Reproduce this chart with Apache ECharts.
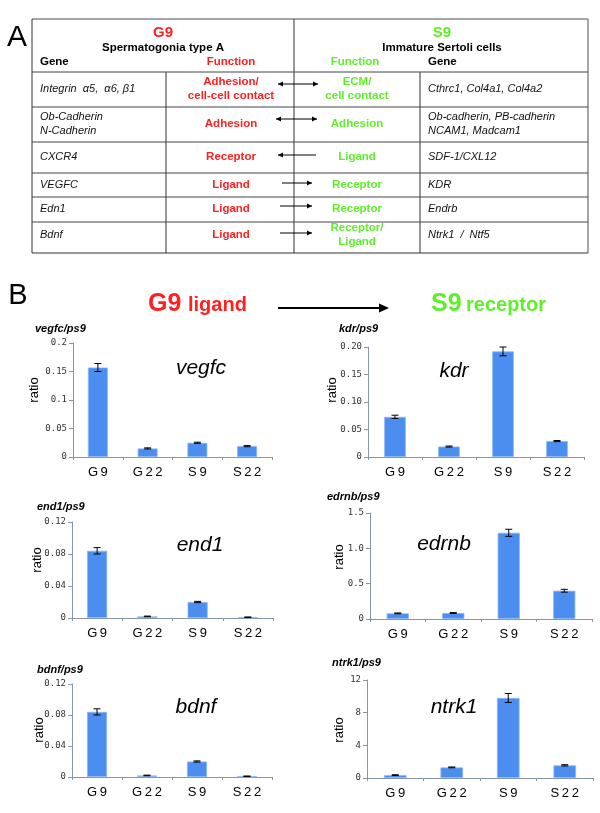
<!DOCTYPE html>
<html><head><meta charset="utf-8">
<script src="https://cdn.jsdelivr.net/npm/echarts@6/dist/echarts.min.js"></script>
<style>html,body{margin:0;padding:0;background:#fff}#c{width:600px;height:813px}</style>
</head><body><div id="c"></div>
<script>
// ---------------- DATA ----------------
const categories = ['G9', 'G22', 'S9', 'S22'];
const chartNames = ['vegfc', 'kdr', 'end1', 'edrnb', 'bdnf', 'ntrk1'];
const chartTitles = ['vegfc/ps9', 'kdr/ps9', 'end1/ps9', 'edrnb/ps9', 'bdnf/ps9', 'ntrk1/ps9'];
const yAxisName = 'ratio';

const vegfcValues = [0.157, 0.015, 0.025, 0.019];
const vegfcErrors = [0.007, 0.001, 0.001, 0.001];
const kdrValues = [0.073, 0.019, 0.192, 0.029];
const kdrErrors = [0.003, 0.001, 0.008, 0.001];
const end1Values = [0.084, 0.002, 0.020, 0.001];
const end1Errors = [0.004, 0.0004, 0.0008, 0.0003];
const edrnbValues = [0.08, 0.085, 1.22, 0.40];
const edrnbErrors = [0.006, 0.006, 0.05, 0.02];
const bdnfValues = [0.084, 0.002, 0.020, 0.001];
const bdnfErrors = [0.004, 0.0004, 0.0008, 0.0003];
const ntrk1Values = [0.35, 1.3, 9.8, 1.55];
const ntrk1Errors = [0.05, 0.05, 0.55, 0.08];

const vegfcTicks = ['0', '0.05', '0.1', '0.15', '0.2'];
const kdrTicks = ['0', '0.05', '0.10', '0.15', '0.20'];
const end1Ticks = ['0', '0.04', '0.08', '0.12'];
const edrnbTicks = ['0', '0.5', '1.0', '1.5'];
const bdnfTicks = ['0', '0.04', '0.08', '0.12'];
const ntrk1Ticks = ['0', '4', '8', '12'];

// Table (panel A)
const panelLabels = ['A', 'B'];
const g9Header = ['G9', 'Spermatogonia type A', 'Gene', 'Function'];
const s9Header = ['S9', 'Immature Sertoli cells', 'Function', 'Gene'];
const g9Genes = ['Integrin  \u03b15,  \u03b16, \u03b21', 'Ob-Cadherin\nN-Cadherin', 'CXCR4', 'VEGFC', 'Edn1', 'Bdnf'];
const g9Functions = ['Adhesion/\ncell-cell contact', 'Adhesion', 'Receptor', 'Ligand', 'Ligand', 'Ligand'];
const arrowDirections = ['both', 'both', 'left', 'right', 'right', 'right'];
const s9Functions = ['ECM/\ncell contact', 'Adhesion', 'Ligand', 'Receptor', 'Receptor', 'Receptor/\nLigand'];
const s9Genes = ['Cthrc1, Col4a1, Col4a2', 'Ob-cadherin, PB-cadherin\nNCAM1, Madcam1', 'SDF-1/CXL12', 'KDR', 'Endrb', 'Ntrk1  /  Ntf5'];
const panelBHeader = [['G9', 'ligand'], ['S9', 'receptor']];

// ---------------- LAYOUT / STYLE ----------------
const RED = '#ff2020', GREEN = '#5fef2a', BLUE = '#4b8ef0', AXIS = '#8796a6';
const FONT = '"Liberation Sans", Arial, sans-serif';
const allValues = [vegfcValues, kdrValues, end1Values, edrnbValues, bdnfValues, ntrk1Values];
const allErrors = [vegfcErrors, kdrErrors, end1Errors, edrnbErrors, bdnfErrors, ntrk1Errors];
const allTicks = [vegfcTicks, kdrTicks, end1Ticks, edrnbTicks, bdnfTicks, ntrk1Ticks];
const grids = [
  {left: 73, top: 343, width: 199, height: 114},
  {left: 368, top: 347, width: 216, height: 110},
  {left: 72, top: 522, width: 201, height: 96},
  {left: 370, top: 513, width: 222, height: 106},
  {left: 72, top: 684, width: 200, height: 93},
  {left: 367, top: 680, width: 226, height: 98}
];
const titlePos = [[35, 329], [339, 329], [37, 507], [327, 497], [37, 670], [332, 663]];
const innerPos = [[201, 368], [454, 371], [200, 545], [444, 544], [196, 707], [454, 707]];
const ratioPos = [[34, 390], [332, 390], [37, 560], [339, 557], [39, 730], [339, 730]];

function txt(x, y, text, font, fill, align, vAlign, extra) {
  return Object.assign({
    type: 'text', x: x, y: y, silent: true,
    style: {text: text, font: font, fill: fill, textAlign: align || 'left', align: align || 'left',
      textVerticalAlign: vAlign || 'middle', verticalAlign: vAlign || 'middle', lineHeight: 14.5}
  }, extra || {});
}
function ln(x1, y1, x2, y2, color, w) {
  return {type: 'line', silent: true, shape: {x1, y1, x2, y2}, style: {stroke: color || '#333', lineWidth: w || 1}};
}
function head(x, y, dir, len, hw) {
  const s = dir === 'right' ? 1 : -1;
  return {type: 'polygon', silent: true, shape: {points: [[x, y], [x - s * len, y - hw], [x - s * len, y + hw]]}, style: {fill: '#000'}};
}

const graphics = [];
// panel labels
graphics.push(txt(17, 38, panelLabels[0], '30px ' + FONT, '#000', 'center'));
graphics.push(txt(18, 296, panelLabels[1], '29px ' + FONT, '#000', 'center'));

// table lines
const TL = 32, TR = 588, TT = 19, TB = 253;
const rowLines = [72, 107, 142, 173, 197, 222];
graphics.push(ln(TL, TT, TR, TT, '#888', 1.5));
graphics.push(ln(TL, TB, TR, TB, '#333', 1));
graphics.push(ln(TL, TT, TL, TB, '#333', 1));
graphics.push(ln(TR, TT, TR, TB, '#888', 1.5));
graphics.push(ln(294, TT, 294, TB, '#333', 1));
graphics.push(ln(166, 72, 166, TB, '#333', 1));
graphics.push(ln(420, 72, 420, TB, '#333', 1));
rowLines.forEach(y => graphics.push(ln(TL, y, TR, y, '#444', 1)));

// headers
const HB = 'bold 11.5px ' + FONT;
graphics.push(txt(163, 33, g9Header[0], 'bold 15px ' + FONT, RED, 'center'));
graphics.push(txt(163, 48, g9Header[1], HB, '#000', 'center'));
graphics.push(txt(40, 62, g9Header[2], HB, '#000', 'left'));
graphics.push(txt(231, 62, g9Header[3], HB, RED, 'center'));
graphics.push(txt(442, 33, s9Header[0], 'bold 15px ' + FONT, GREEN, 'center'));
graphics.push(txt(442, 48, s9Header[1], HB, '#000', 'center'));
graphics.push(txt(355, 62, s9Header[2], HB, GREEN, 'center'));
graphics.push(txt(428, 62, s9Header[3], HB, '#000', 'left'));

// rows
const rowTextY = [89, 124, 156.5, 184.5, 208.5, 235];
const arrowY = [84, 119, 155, 183, 206, 233];
const arrowX = [[278, 318], [276, 317], [278, 316], [282, 312], [280, 312], [280, 312]];
const GI = 'italic 11px ' + FONT;
g9Genes.forEach((g, i) => {
  graphics.push(txt(40, rowTextY[i], g, GI, '#111', 'left'));
  graphics.push(txt(231, rowTextY[i], g9Functions[i], HB, RED, 'center'));
  graphics.push(txt(357, rowTextY[i], s9Functions[i], HB, GREEN, 'center'));
  graphics.push(txt(428, rowTextY[i], s9Genes[i], GI, '#111', 'left'));
  const [x1, x2] = arrowX[i], y = arrowY[i], d = arrowDirections[i];
  graphics.push(ln(x1, y, x2, y, '#000', 1));
  if (d === 'both' || d === 'left') graphics.push(head(x1, y, 'left', 5, 2.5));
  if (d === 'both' || d === 'right') graphics.push(head(x2, y, 'right', 5, 2.5));
});

// panel B header
graphics.push(txt(148, 304, panelBHeader[0][0], 'bold 25px ' + FONT, RED, 'left'));
graphics.push(txt(188, 305.5, panelBHeader[0][1], 'bold 20px ' + FONT, RED, 'left'));
graphics.push(txt(431, 304, panelBHeader[1][0], 'bold 25px ' + FONT, GREEN, 'left'));
graphics.push(txt(466, 305.5, panelBHeader[1][1], 'bold 20px ' + FONT, GREEN, 'left'));
graphics.push(ln(278, 308, 380, 308, '#000', 2));
graphics.push(head(389, 308, 'right', 10, 4.5));

// chart decorations
chartNames.forEach((n, i) => {
  graphics.push(txt(titlePos[i][0], titlePos[i][1], chartTitles[i], 'italic bold 11px ' + FONT, '#000', 'left'));
  graphics.push(txt(innerPos[i][0], innerPos[i][1], n, 'italic 21px ' + FONT, '#000', 'center'));
  graphics.push(txt(ratioPos[i][0], ratioPos[i][1], yAxisName, '13px ' + FONT, '#000', 'center', 'middle', {rotation: Math.PI / 2}));
});

const xAxes = [], yAxes = [], series = [];
grids.forEach((g, i) => {
  const ticks = allTicks[i];
  xAxes.push({
    type: 'category', gridIndex: i, data: categories, boundaryGap: true,
    axisLine: {lineStyle: {color: AXIS, width: 1}},
    axisTick: {show: true, length: 3, lineStyle: {color: AXIS}},
    axisLabel: {margin: 9, fontSize: 13, fontFamily: FONT, color: '#000',
      formatter: v => v.split('').join('\u2009')},
    splitLine: {show: false}
  });
  yAxes.push({
    type: 'value', gridIndex: i, min: 0, max: parseFloat(ticks[ticks.length - 1]),
    interval: parseFloat(ticks[1]),
    axisLine: {show: true, lineStyle: {color: AXIS, width: 1}},
    axisTick: {show: true, length: 4, lineStyle: {color: AXIS}},
    axisLabel: {margin: 6, fontSize: 9, fontFamily: '"DejaVu Sans Mono", monospace', color: '#333',
      formatter: (v, idx) => ticks[idx]},
    splitLine: {show: false}
  });
  series.push({
    type: 'bar', xAxisIndex: i, yAxisIndex: i, data: allValues[i], barWidth: '40%',
    itemStyle: {color: BLUE, borderColor: '#8ab6f6', borderWidth: 0.8}, silent: true
  });
  series.push({
    type: 'custom', xAxisIndex: i, yAxisIndex: i, z: 5, silent: true,
    data: allValues[i].map((v, k) => [k, v, allErrors[i][k]]),
    encode: {x: 0, y: 1},
    renderItem: (params, api) => {
      const x = api.coord([api.value(0), 0])[0];
      const top = api.coord([api.value(0), api.value(1) + api.value(2)])[1];
      const bot = api.coord([api.value(0), api.value(1) - api.value(2)])[1];
      const w = 3.5, st = {stroke: '#000', lineWidth: 1};
      return {type: 'group', children: [
        {type: 'line', shape: {x1: x, y1: top, x2: x, y2: bot}, style: st},
        {type: 'line', shape: {x1: x - w, y1: top, x2: x + w, y2: top}, style: st},
        {type: 'line', shape: {x1: x - w, y1: bot, x2: x + w, y2: bot}, style: st}
      ]};
    }
  });
});

const chart = echarts.init(document.getElementById('c'), null, {renderer: 'canvas'});
chart.setOption({
  animation: false,
  backgroundColor: '#fff',
  grid: grids,
  xAxis: xAxes,
  yAxis: yAxes,
  series: series,
  graphic: {elements: graphics}
});
</script>
</body></html>
